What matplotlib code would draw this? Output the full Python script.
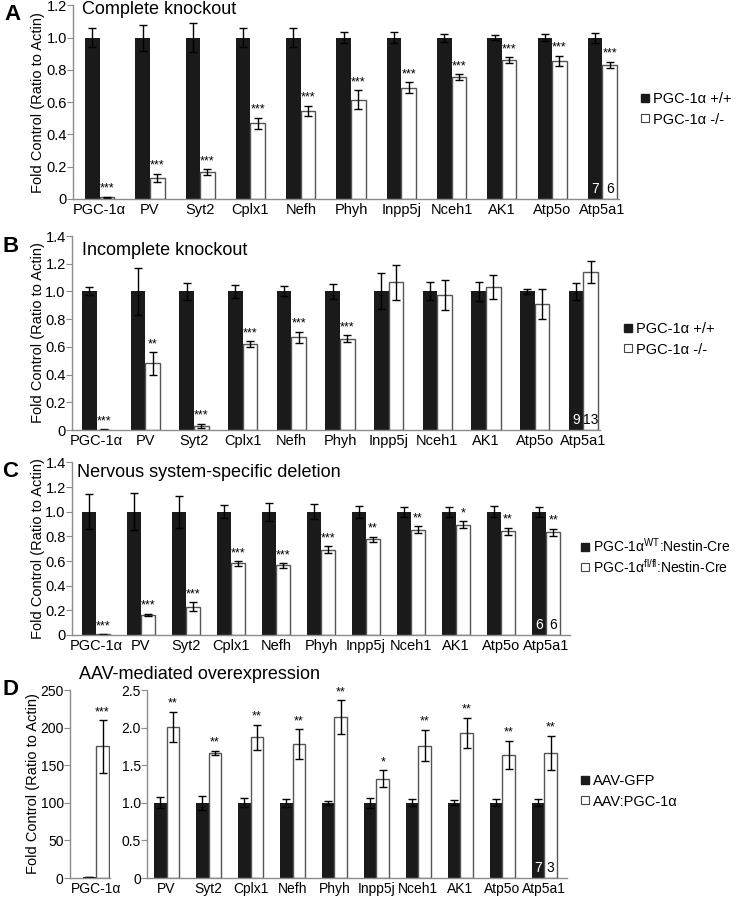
import numpy as np
import matplotlib
matplotlib.use('Agg')
import matplotlib.pyplot as plt
from matplotlib.lines import Line2D

plt.rcParams['font.family'] = ['Liberation Sans', 'DejaVu Sans']
plt.rcParams['mathtext.fontset'] = 'custom'
plt.rcParams['mathtext.rm'] = 'Liberation Sans'

# ---- data ----
genes = ['PGC-1α', 'PV', 'Syt2', 'Cplx1', 'Nefh', 'Phyh', 'Inpp5j', 'Nceh1', 'AK1', 'Atp5o', 'Atp5a1']

# A: complete knockout
a_wt = [1.0, 1.0, 1.0, 1.0, 1.0, 1.0, 1.0, 1.0, 1.0, 1.0, 1.0]
a_wt_err = [0.06, 0.08, 0.09, 0.06, 0.06, 0.035, 0.035, 0.025, 0.017, 0.02, 0.03]
a_ko = [0.01, 0.13, 0.165, 0.47, 0.545, 0.615, 0.69, 0.755, 0.86, 0.855, 0.83]
a_ko_err = [0.004, 0.025, 0.018, 0.035, 0.032, 0.06, 0.035, 0.018, 0.02, 0.032, 0.02]
a_stars = ['***', '***', '***', '***', '***', '***', '***', '***', '***', '***', '***']
a_n = ['7', '6']

# B: incomplete knockout
b_wt = [1.0, 1.0, 1.0, 1.0, 1.0, 1.0, 1.0, 1.0, 1.0, 1.0, 1.0]
b_wt_err = [0.029, 0.167, 0.064, 0.048, 0.036, 0.055, 0.13, 0.065, 0.071, 0.019, 0.06]
b_ko = [0.003, 0.48, 0.03, 0.62, 0.67, 0.66, 1.065, 0.975, 1.03, 0.91, 1.14]
b_ko_err = [0.002, 0.08, 0.015, 0.02, 0.04, 0.025, 0.126, 0.11, 0.086, 0.107, 0.08]
b_stars = ['***', '**', '***', '***', '***', '***', '', '', '', '', '']
b_n = ['9', '13']

# C: nervous system-specific deletion
c_wt = [1.0, 1.0, 1.0, 1.0, 1.0, 1.0, 1.0, 1.0, 1.0, 1.0, 1.0]
c_wt_err = [0.14, 0.15, 0.13, 0.054, 0.073, 0.06, 0.05, 0.04, 0.04, 0.045, 0.04]
c_ko = [0.005, 0.162, 0.23, 0.58, 0.565, 0.69, 0.775, 0.855, 0.895, 0.84, 0.835]
c_ko_err = [0.002, 0.01, 0.035, 0.02, 0.018, 0.028, 0.022, 0.027, 0.027, 0.028, 0.028]
c_stars = ['***', '***', '***', '***', '***', '***', '**', '**', '*', '**', '**']
c_n = ['6', '6']

# D: AAV overexpression (PGC-1α on its own scale)
d_pgc_gfp = [1.0]
d_pgc_gfp_err = [0.3]
d_pgc_aav = [175.0]
d_pgc_aav_err = [35.0]
d_genes = genes[1:]
d_gfp = [1.0, 1.0, 1.0, 1.0, 1.0, 1.0, 1.0, 1.0, 1.0, 1.0]
d_gfp_err = [0.075, 0.09, 0.06, 0.05, 0.03, 0.065, 0.045, 0.035, 0.045, 0.045]
d_aav = [2.01, 1.66, 1.87, 1.78, 2.14, 1.32, 1.76, 1.93, 1.64, 1.66]
d_aav_err = [0.2, 0.03, 0.165, 0.2, 0.225, 0.11, 0.21, 0.2, 0.185, 0.23]
d_stars = ['**', '**', '**', '**', '**', '*', '**', '**', '**', '**']
d_n = ['7', '3']

W, H = 736, 899
fig = plt.figure(figsize=(W / 100, H / 100), dpi=100)

BLACK = '#1a1a1a'
EDGE = '#555555'
SPINE = '#8c8c8c'


def add_ax(left, top, right, bottom):
    # pixel box -> figure fraction
    return fig.add_axes([left / W, 1 - bottom / H, (right - left) / W, (bottom - top) / H])


def style(ax, ylim, yticks, ylabels, fs=10.5):
    ax.set_ylim(*ylim)
    ax.set_yticks(yticks)
    ax.set_yticklabels(ylabels)
    for s in ['top', 'right']:
        ax.spines[s].set_visible(False)
    for s in ['left', 'bottom']:
        ax.spines[s].set_color(SPINE)
        ax.spines[s].set_linewidth(1)
    ax.tick_params(axis='y', length=4, color=SPINE, labelsize=fs, pad=0.5)
    ax.tick_params(axis='x', length=0, labelsize=fs, pad=3)


def draw(ax, names, wt, wt_err, ko, ko_err, stars, w):
    x = np.arange(len(names))
    ekw = dict(ecolor='black', elinewidth=1, capsize=3, capthick=1)
    ax.bar(x - w / 2, wt, w, color=BLACK, linewidth=0, yerr=wt_err, error_kw=ekw)
    ax.bar(x + w / 2, ko, w, color='white', edgecolor=EDGE, linewidth=1, yerr=ko_err, error_kw=ekw)
    for i, s in enumerate(stars):
        if s:
            ax.annotate(s, (x[i] + w / 2, ko[i] + ko_err[i]), xytext=(0, 1.5),
                        textcoords='offset points', ha='center', va='bottom', fontsize=9)
    ax.set_xticks(x)
    ax.set_xticklabels(names)
    return x


def n_labels(ax, xpos, n, w):
    ax.annotate(n[0], (xpos - w / 2, 0), xytext=(0, 2), textcoords='offset points',
                ha='center', va='bottom', fontsize=10, color='white')
    ax.annotate(n[1], (xpos + w / 2, 0), xytext=(0, 2), textcoords='offset points',
                ha='center', va='bottom', fontsize=10, color='black')


def legend(ax, labels, left, top, fs=10.5, sp=0.45):
    h = [Line2D([], [], marker='s', ls='none', markersize=6, mfc=BLACK, mec=BLACK),
         Line2D([], [], marker='s', ls='none', markersize=6, mfc='white', mec='#444444', mew=0.8)]
    ax.legend(h, labels, loc='upper left', bbox_to_anchor=(left / W, 1 - top / H),
              bbox_transform=fig.transFigure, frameon=False, fontsize=fs,
              handlelength=0.6, handletextpad=0.25, borderpad=0, borderaxespad=0,
              labelspacing=sp)


def ylab(px, ax):
    b = ax.get_position()
    fig.text(px / W, b.y0 + b.height / 2, 'Fold Control (Ratio to Actin)', rotation=90,
             ha='center', va='center', fontsize=10.5)


def title(txt, x, y_base, letter, lx, ly_base):
    fig.text(x / W, 1 - y_base / H, txt, fontsize=13, va='baseline', ha='left')
    fig.text(lx / W, 1 - ly_base / H, letter, fontsize=16, fontweight='bold', va='baseline', ha='left')


dec = lambda t: ['0'] + ['%.1f' % v for v in t[1:]]

# ---- A ----
axA = add_ax(73, 5.4, 619, 199)
wA = 0.29
x = draw(axA, genes, a_wt, a_wt_err, a_ko, a_ko_err, a_stars, wA)
axA.set_xlim(-0.53, 10.33)
tA = np.arange(0, 1.21, 0.2)
style(axA, (0, 1.2), tA, dec(tA))
n_labels(axA, x[-1], a_n, wA)
legend(axA, ['PGC-1α +/+', 'PGC-1α -/-'], 641, 92)
ylab(38, axA)
title('Complete knockout', 82, 14, 'A', 4, 20)

# ---- B ----
axB = add_ax(72, 236, 600, 430)
wB = 0.3
x = draw(axB, genes, b_wt, b_wt_err, b_ko, b_ko_err, b_stars, wB)
axB.set_xlim(-0.505, 10.34)
tB = np.arange(0, 1.41, 0.2)
style(axB, (0, 1.4), tB, dec(tB))
n_labels(axB, x[-1], b_n, wB)
legend(axB, ['PGC-1α +/+', 'PGC-1α -/-'], 624, 322)
ylab(38, axB)
title('Incomplete knockout', 82, 255, 'B', 3, 252)

# ---- C ----
axC = add_ax(72, 462.4, 570, 635)
wC = 0.31
x = draw(axC, genes, c_wt, c_wt_err, c_ko, c_ko_err, c_stars, wC)
axC.set_xlim(-0.53, 10.53)
tC = np.arange(0, 1.41, 0.2)
style(axC, (0, 1.4), tC, dec(tC))
n_labels(axC, x[-1], c_n, wC)
legend(axC, [r'PGC-1α$^{\mathrm{WT}}$:Nestin-Cre', r'PGC-1α$^{\mathrm{fl/fl}}$:Nestin-Cre'],
       581, 536, fs=10, sp=0.2)
ylab(38, axC)
title('Nervous system-specific deletion', 77, 477, 'C', 2, 477)

# ---- D ----
axD1 = add_ax(70, 690, 110, 878)
wD = 0.3
draw(axD1, genes[:1], d_pgc_gfp, d_pgc_gfp_err, d_pgc_aav, d_pgc_aav_err, ['***'], wD)
axD1.set_xlim(-0.59, 0.32)
style(axD1, (0, 250), np.arange(0, 251, 50), [str(v) for v in range(0, 251, 50)], fs=10)
ylab(33, axD1)

axD2 = add_ax(147, 690, 567, 878)
x = draw(axD2, d_genes, d_gfp, d_gfp_err, d_aav, d_aav_err, d_stars, wD)
axD2.set_xlim(-0.467, 9.54)
tD = np.arange(0, 2.51, 0.5)
style(axD2, (0, 2.5), tD, dec(tD), fs=10)
n_labels(axD2, x[-1], d_n, wD)
legend(axD2, ['AAV-GFP', 'AAV:PGC-1α'], 581, 774)
title('AAV-mediated overexpression', 79, 679, 'D', 2, 695)

fig.savefig('out.png', dpi=100)
